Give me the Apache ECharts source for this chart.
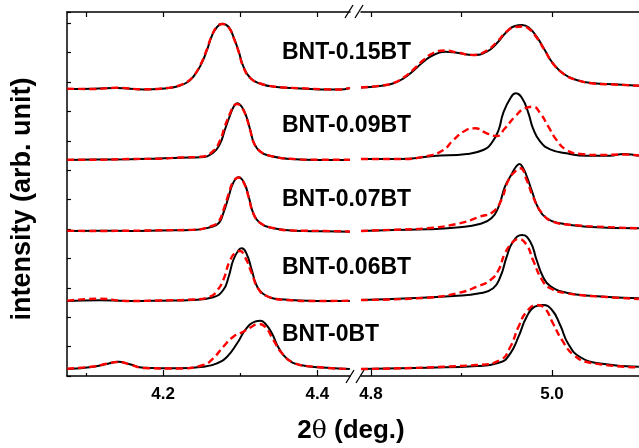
<!DOCTYPE html>
<html>
<head>
<meta charset="utf-8">
<script src="https://cdn.jsdelivr.net/npm/echarts@6/dist/echarts.min.js"></script>
<style>html,body{margin:0;padding:0;background:#fff}#main{width:639px;height:448px}</style>
</head>
<body>
<div id="main"></div>
<script>
var myChart = echarts.init(document.getElementById('main'));

// sample names, top to bottom
var samples = ['BNT-0.15BT', 'BNT-0.09BT', 'BNT-0.07BT', 'BNT-0.06BT', 'BNT-0BT'];
// vertical offset of every trace (arb. unit)
var offsets = [287, 216, 145, 75, 7];

// tick values of the broken 2theta axis
var leftMajor = [4.2, 4.4], leftMinor = [4.1, 4.3];
var rightMajor = [4.8, 5.0], rightMinor = [4.9];

// [2theta, intensity] ; black = solid line, red = dashed line
var blackL = [
  [[4.076,0],[4.11,0.3],[4.14,1],[4.175,-0.5],[4.205,0.8],[4.218,2.5],[4.231,6.5],[4.239,12],[4.248,22.6],[4.257,39],[4.263,52.6],[4.27,62],[4.277,65.3],[4.285,62],[4.291,52.6],[4.298,37.6],[4.304,22.6],[4.313,11],[4.326,5.3],[4.347,2],[4.378,0.6],[4.412,-0.6],[4.429,-0.6],[4.442,1]],
  [[4.076,0],[4.11,0.5],[4.157,0.7],[4.195,1.5],[4.222,2.3],[4.248,2.7],[4.265,7.3],[4.274,16.7],[4.28,30],[4.287,45],[4.292,54],[4.296,56.7],[4.302,53.3],[4.308,43.3],[4.313,30],[4.318,16.7],[4.326,8.3],[4.339,4],[4.365,1],[4.403,0],[4.442,0]],
  [[4.076,0],[4.12,0.3],[4.157,0],[4.196,0.5],[4.239,1],[4.261,3.7],[4.272,7.7],[4.278,17.7],[4.285,34.3],[4.291,48.3],[4.298,53.7],[4.305,48.3],[4.311,34.3],[4.317,17.7],[4.326,7.7],[4.343,2.7],[4.369,0.3],[4.41,-0.3],[4.442,-0.7]],
  [[4.076,0],[4.118,0.8],[4.153,0],[4.196,0.3],[4.239,1],[4.265,3.7],[4.278,11],[4.285,24.3],[4.291,41],[4.298,51],[4.302,52.7],[4.308,47.7],[4.315,31],[4.321,16],[4.33,7],[4.352,1.7],[4.4,0],[4.442,0]],
  [[4.076,0],[4.11,2.3],[4.127,5],[4.142,7.3],[4.157,4.7],[4.175,1.3],[4.218,0.7],[4.252,2.3],[4.27,5.7],[4.283,12.3],[4.296,25.7],[4.308,40.7],[4.319,47.3],[4.326,48.3],[4.332,45.7],[4.341,35.7],[4.349,22.3],[4.36,10.7],[4.378,4],[4.412,1.3],[4.442,0]]
];
var redL = [
  [[4.076,0.3],[4.11,0],[4.14,1.2],[4.175,-0.3],[4.205,1],[4.218,2.8],[4.231,7],[4.239,12.5],[4.248,23.5],[4.257,40],[4.263,53],[4.27,62.5],[4.277,65],[4.285,61.5],[4.291,52],[4.298,37],[4.304,22],[4.313,11],[4.326,5.5],[4.347,2.2],[4.378,0.8],[4.412,-0.3],[4.429,-0.5],[4.442,1.2]],
  [[4.076,0.3],[4.11,0.2],[4.157,1],[4.195,1.3],[4.222,2.5],[4.248,3.2],[4.265,9],[4.274,20],[4.28,33.5],[4.287,47],[4.292,54.5],[4.296,56],[4.302,52.5],[4.308,42.5],[4.313,29.5],[4.318,16.5],[4.326,8.5],[4.339,4.2],[4.365,1.2],[4.403,0.3],[4.442,0.2]],
  [[4.076,0.2],[4.12,0],[4.157,0.3],[4.196,0.7],[4.239,1.3],[4.261,4.5],[4.272,9.5],[4.278,20.5],[4.285,37],[4.291,49.5],[4.298,53.5],[4.305,47.5],[4.311,33.5],[4.317,17.5],[4.326,8],[4.343,3],[4.369,0.5],[4.41,0],[4.442,-0.5]],
  [[4.076,0.3],[4.118,2.3],[4.153,0],[4.196,0.5],[4.239,1.5],[4.261,4.3],[4.27,10.3],[4.278,21],[4.287,41],[4.296,49.3],[4.3,50],[4.306,44.3],[4.315,27.7],[4.323,12.7],[4.334,5],[4.36,1],[4.4,0],[4.442,0.3]],
  [[4.076,0.3],[4.11,2.5],[4.127,5.3],[4.142,7],[4.157,4.5],[4.175,1],[4.218,0.5],[4.252,4],[4.265,10.7],[4.278,22.3],[4.291,32.3],[4.304,37.3],[4.315,42.3],[4.323,45],[4.332,42.3],[4.343,29],[4.354,15.7],[4.369,6.3],[4.395,2.3],[4.442,0]]
];
var blackR = [
  [[4.789,1.5],[4.81,3],[4.825,5.7],[4.836,10.7],[4.847,18.3],[4.858,27.3],[4.869,34],[4.882,37.3],[4.895,36.3],[4.913,34],[4.928,37.3],[4.939,45.7],[4.95,57.3],[4.959,63],[4.967,64],[4.974,61.7],[4.983,52.3],[4.992,39],[5.001,25.7],[5.013,15],[5.027,9],[5.046,5.7],[5.068,4.7],[5.096,3.3]],
  [[4.789,1],[4.832,1],[4.869,4],[4.906,6],[4.924,10],[4.933,16.7],[4.941,30],[4.946,46.7],[4.954,61.7],[4.96,66.7],[4.967,61.7],[4.974,46.7],[4.979,31.7],[4.987,18.3],[4.998,10.7],[5.016,6.7],[5.038,4.3],[5.064,4.3],[5.079,6],[5.096,4.3]],
  [[4.789,0],[4.825,1],[4.862,1.7],[4.898,3.7],[4.92,7],[4.933,12.7],[4.941,24.3],[4.948,44.3],[4.956,57.7],[4.96,64],[4.964,67],[4.968,63],[4.972,55],[4.978,39.3],[4.985,22.7],[4.994,12.7],[5.009,7.7],[5.038,4.3],[5.096,2.7]],
  [[4.789,1],[4.843,2.7],[4.891,5],[4.92,7.7],[4.935,12.7],[4.943,24.3],[4.95,44.3],[4.957,59.3],[4.967,66],[4.976,59.3],[4.983,41],[4.99,24.3],[4.998,15],[5.016,8.3],[5.046,5],[5.096,2.7]],
  [[4.789,0],[4.862,1.3],[4.917,3],[4.943,6.7],[4.954,15.7],[4.963,32.3],[4.972,52.3],[4.981,62.3],[4.99,64],[5,59],[5.009,44],[5.018,25],[5.031,12],[5.053,5.5],[5.096,2.3]]
];
var redR = [
  [[4.789,1.5],[4.81,3.3],[4.825,6],[4.836,11.5],[4.847,19.5],[4.858,29],[4.869,36],[4.882,38.5],[4.895,36.5],[4.913,34],[4.928,38.5],[4.939,47],[4.95,57.5],[4.959,62],[4.967,62.5],[4.974,60.5],[4.983,51.5],[4.992,38.5],[5.001,25.5],[5.013,15],[5.027,9],[5.046,5.5],[5.068,4.5],[5.096,3.3]],
  [[4.789,1],[4.832,1],[4.862,4],[4.88,10],[4.891,20],[4.904,29.3],[4.915,31.7],[4.928,26.7],[4.939,24],[4.948,31.7],[4.959,43.3],[4.97,51.7],[4.979,53.3],[4.987,46.7],[4.996,33.3],[5.005,20],[5.016,10],[5.031,6],[5.053,5],[5.079,5.5],[5.096,4.5]],
  [[4.789,0],[4.825,1.3],[4.862,2.7],[4.898,7.7],[4.92,14.3],[4.935,19.3],[4.944,31],[4.952,51],[4.961,61],[4.965,62.7],[4.972,51],[4.979,34.3],[4.989,17.7],[5.001,9.3],[5.024,6],[5.06,4],[5.096,2.7]],
  [[4.789,1],[4.862,3.3],[4.898,8.3],[4.917,14.3],[4.932,21],[4.941,31],[4.948,47.7],[4.957,59.3],[4.963,62],[4.972,56],[4.979,41],[4.989,21],[4.998,12.7],[5.016,7.7],[5.06,4],[5.096,2]],
  [[4.789,0],[4.917,4],[4.943,9],[4.954,22.3],[4.963,42.3],[4.972,57.3],[4.983,64],[4.992,60.7],[5.001,45.7],[5.011,29],[5.024,14],[5.042,6.3],[5.096,1.7]]
];

var FONT = '"Liberation Sans", Arial, sans-serif';
var labelY = [53, 126, 200, 268, 335];

function shift(arr, off) {
  return arr.map(function (p) { return [p[0], p[1] + off]; });
}

var series = [];
function addLine(data, xi, yi, red) {
  series.push({
    type: 'line',
    xAxisIndex: xi,
    yAxisIndex: yi,
    data: data,
    symbol: 'none',
    smooth: 0.5,
    z: red ? 3 : 2,
    lineStyle: red ? {color: '#ff0000', width: 2.4, type: [7, 4]} : {color: '#000', width: 2}
  });
}
for (var i = 0; i < samples.length; i++) {
  addLine(shift(blackL[i], offsets[i]), 0, 0, false);
  addLine(shift(redL[i], offsets[i]), 0, 0, true);
  addLine(shift(blackR[i], offsets[i]), 3, 1, false);
  addLine(shift(redR[i], offsets[i]), 3, 1, true);
}

function axis(grid, pos, min, max, ticks, len, labels, line) {
  return {
    gridIndex: grid, type: 'value', position: pos, min: min, max: max,
    axisLine: {show: line, onZero: false, lineStyle: {color: '#000', width: 1.5}},
    axisTick: {show: true, inside: true, length: len, customValues: ticks, lineStyle: {color: '#000', width: 1.2}},
    axisLabel: labels ? {
      customValues: labels, color: '#000', fontWeight: 'bold', fontSize: 17, fontFamily: FONT, margin: 10,
      formatter: function (v) { return v.toFixed(1); }
    } : {show: false},
    splitLine: {show: false}
  };
}

var L_MIN = 4.0756, L_MAX = 4.4422, R_MIN = 4.789, R_MAX = 5.0961;

var graphic = [];
samples.forEach(function (s, k) {
  graphic.push({type: 'text', x: 282, y: labelY[k],
    style: {text: s, font: 'bold 23px ' + FONT, fill: '#000', textVerticalAlign: 'middle'}});
});
graphic.push({type: 'text', x: 23, y: 199, rotation: Math.PI / 2,
  style: {text: 'intensity (arb. unit)', font: 'bold 27px ' + FONT, fill: '#000', textAlign: 'center', textVerticalAlign: 'middle'}});
graphic.push({type: 'text', x: 351, y: 431,
  style: {text: '{a|2}{b|θ}{a| (deg.)}', textAlign: 'center', textVerticalAlign: 'middle',
    rich: {a: {font: 'bold 26px ' + FONT, fill: '#000'}, b: {font: '25px "DejaVu Serif", serif', fill: '#000'}}}});
// axis break marks
[[345, 18, 353, 5], [355, 18, 363, 5], [346, 383, 354, 370], [356, 383, 364, 370]].forEach(function (l) {
  graphic.push({type: 'line', shape: {x1: l[0], y1: l[1], x2: l[2], y2: l[3]}, style: {stroke: '#000', lineWidth: 1.3}});
});

option = {
  animation: false,
  backgroundColor: '#fff',
  grid: [
    {left: 67, top: 12, width: 283, height: 364},
    {left: 361, top: 12, right: 0, height: 364}
  ],
  xAxis: [
    axis(0, 'bottom', L_MIN, L_MAX, leftMajor, 6, leftMajor, true),
    axis(0, 'bottom', L_MIN, L_MAX, leftMinor, 3, null, false),
    axis(0, 'top', L_MIN, L_MAX, leftMinor.concat(leftMajor), 5, null, true),
    axis(1, 'bottom', R_MIN, R_MAX, rightMajor, 6, rightMajor, true),
    axis(1, 'bottom', R_MIN, R_MAX, rightMinor, 3, null, false),
    axis(1, 'top', R_MIN, R_MAX, rightMinor.concat(rightMajor), 5, null, true)
  ],
  yAxis: [
    {gridIndex: 0, type: 'value', min: 0, max: 364, interval: 29.4,
      axisLine: {show: true, onZero: false, lineStyle: {color: '#000', width: 1.5}},
      axisTick: {inside: true, length: 4, lineStyle: {color: '#000', width: 1.2}},
      axisLabel: {show: false}, splitLine: {show: false}},
    {gridIndex: 1, type: 'value', min: 0, max: 364, show: false}
  ],
  graphic: graphic,
  series: series
};

myChart.setOption(option);
</script>
</body>
</html>
